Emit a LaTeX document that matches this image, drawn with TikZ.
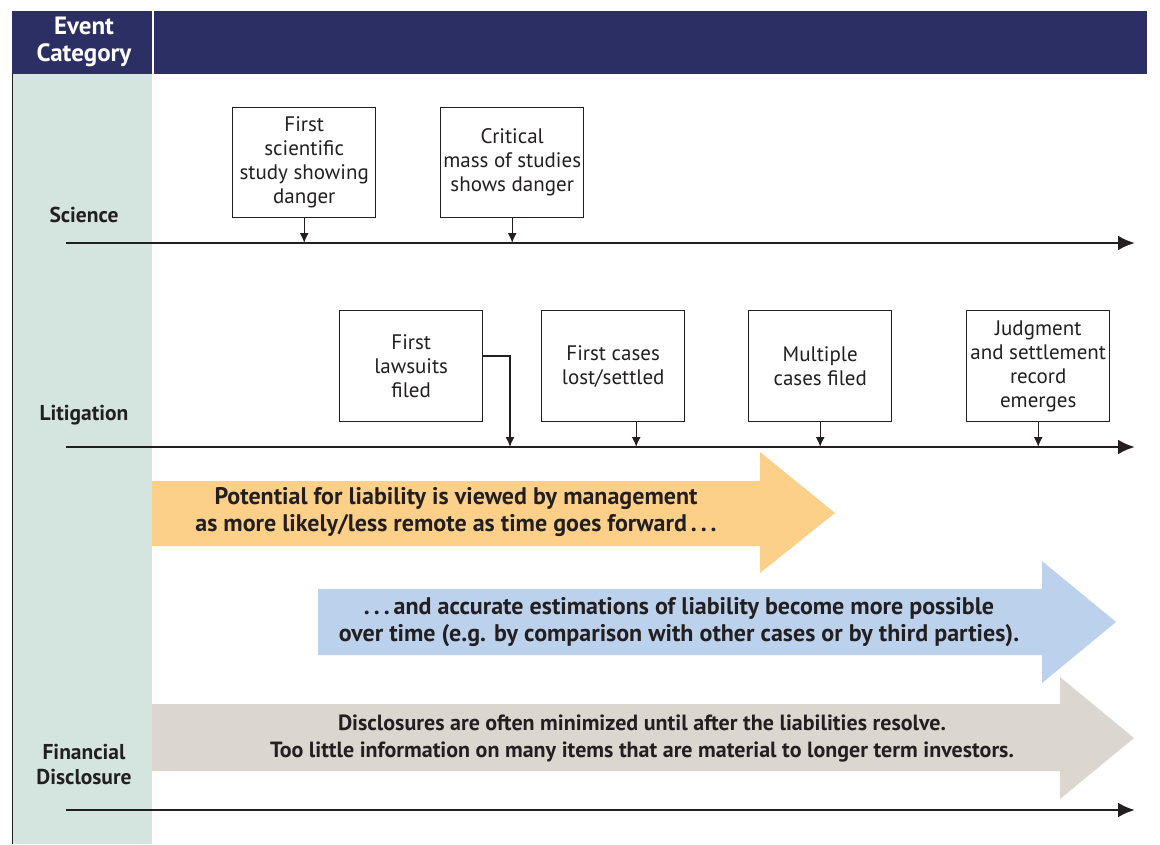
\documentclass[tikz,border=0pt]{standalone}
\usepackage{fontspec}
\setmainfont{PT Sans}
\usetikzlibrary{arrows.meta}
\definecolor{navy}{HTML}{2B2F63}
\definecolor{mint}{HTML}{D4E5E0}
\definecolor{orng}{HTML}{FDD08A}
\definecolor{lblue}{HTML}{BCD1EC}
\definecolor{taupe}{HTML}{DCD6D0}
\definecolor{ink}{HTML}{231F20}
\tikzset{
  evbox/.style={draw=ink, line width=1.4pt, minimum width=143pt, minimum height=110pt, align=center, font=\fontsize{21}{24}\selectfont, text=ink, anchor=north west, inner sep=0pt},
  tline/.style={draw=ink, line width=2.8pt, -{Latex[length=17pt,width=15pt]}},
  tick/.style={draw=ink, line width=1.4pt, -{Latex[length=10pt,width=9pt]}},
  catlabel/.style={font=\bfseries\fontsize{21.5}{25}\selectfont, text=ink, align=center},
  arrtext/.style={font=\bfseries\fontsize{24}{27}\selectfont, text=ink, align=center},
}
\begin{document}
\begin{tikzpicture}[x=1pt,y=-1pt]
\useasboundingbox (0,0) rectangle (1160,844);
\fill[white] (0,0) rectangle (1160,844);
% header
\fill[navy] (12,11) rectangle (1147,74);
\fill[mint] (12,74) rectangle (152,844);
\draw[ink, line width=1.2pt] (12.6,74) -- (12.6,844);
\draw[white, line width=2pt] (153,11) -- (153,74);
\node[font=\bfseries\fontsize{25}{27}\selectfont, text=white, align=center] (hdr) at (84,42) {Event\\Category};
% category labels
\node[catlabel] (sci) at (84,215) {Science};
\node[catlabel] (lit) at (84,415) {Litigation};
\node[catlabel] (fin) at (84,764) {Financial\\Disclosure};
% timelines
\coordinate (s0) at (66,243); \coordinate (s1) at (1135,243);
\coordinate (l0) at (66,447); \coordinate (l1) at (1135,447);
\coordinate (f0) at (66,810); \coordinate (f1) at (1135,810);
% big arrows
\fill[orng] (152,481) -- (760,481) -- (760,452) -- (835,513) -- (760,573) -- (760,546) -- (152,546) -- cycle;
\fill[lblue] (318,589) -- (1042,589) -- (1042,561) -- (1116,622) -- (1042,683) -- (1042,655) -- (318,655) -- cycle;
\fill[taupe] (152,704) -- (1060,704) -- (1060,677) -- (1134,738) -- (1060,799) -- (1060,771) -- (152,771) -- cycle;
\node[arrtext] (ta) at (456,512) {Potential for liability is viewed by management\\as more likely/less remote as time goes forward\,.\,.\,.};
\node[arrtext] (tb) at (679,622) {.\,.\,.\,and accurate estimations of liability become more possible\\over time (e.g. by comparison with other cases or by third parties).};
\node[arrtext, font=\bfseries\fontsize{22}{27}\selectfont] (tc) at (642,739) {Disclosures are often minimized until after the liabilities resolve.\\Too little information on many items that are material to longer term investors.};
\draw[tline] (s0) -- (s1);
\draw[tline] (l0) -- (l1);
\draw[tline] (f0) -- (f1);
% science boxes
\node[evbox] (b1) at (232,107) {First\\scientific\\study showing\\danger};
\node[evbox] (b2) at (440,107) {Critical\\mass of studies\\shows danger};
\draw[tick] (b1.south) -- (b1.south |- s0);
\draw[tick] (b2.south) -- (b2.south |- s0);
% litigation boxes
\node[evbox, minimum height=111pt] (c1) at (339,310) {First\\lawsuits\\filed};
\node[evbox, minimum height=111pt] (c2) at (541,310) {First cases\\lost/settled};
\node[evbox, minimum height=111pt] (c3) at (748,310) {Multiple\\cases filed};
\node[evbox, minimum height=111pt] (c4) at (966,310) {Judgment\\and settlement\\record\\emerges};
\coordinate (k1) at (510,356);
\draw[tick] ([yshift=-46pt]c1.north east) -- (k1) -- (k1 |- l0);
\draw[tick] ([xshift=23pt]c2.south) -- ([xshift=23pt]c2.south |- l0);
\draw[tick] ([xshift=0pt]c3.south) -- (c3.south |- l0);
\draw[tick] (c4.south) -- (c4.south |- l0);
\end{tikzpicture}
\end{document}
